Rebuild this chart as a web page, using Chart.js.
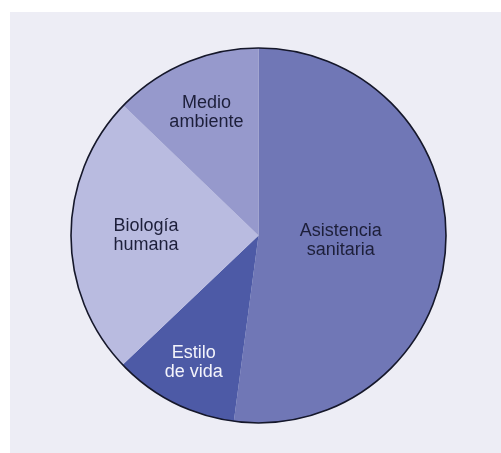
<!DOCTYPE html>
<html>
<head>
<meta charset="utf-8">
<script src="https://cdn.jsdelivr.net/npm/chart.js@4"></script>
<style>
  html, body { margin: 0; padding: 0; background: #fff; }
  body { width: 501px; height: 453px; position: relative; overflow: hidden; }
  .panel { position: absolute; left: 10px; top: 12px; right: 0; bottom: 0; background: #ededf5; }
  .wrap { position: absolute; left: 70px; top: 47px; width: 377px; height: 377px; }
</style>
</head>
<body>
<div class="panel"></div>
<div class="wrap"><canvas id="pie"></canvas></div>
<script>
const labels = [['Asistencia', 'sanitaria'], ['Estilo', 'de vida'], ['Biología', 'humana'], ['Medio', 'ambiente']];
const values = [52.1, 10.8, 24.3, 12.8];
const colors = ['#7077b6', '#4d5aa6', '#b9bbe0', '#9699cc'];
const textColors = ['#1d1f3a', '#f4f4fb', '#1d1f3a', '#1d1f3a'];
const labelRadius = [0.44, 0.76, 0.6, 0.71];

// labels inside slices + dark outline around the pie
const pieDecor = {
  id: 'pieDecor',
  afterDatasetsDraw(chart) {
    const ctx = chart.ctx;
    const arcs = chart.getDatasetMeta(0).data;
    if (!arcs.length) return;
    const a0 = arcs[0];
    ctx.save();
    ctx.beginPath();
    ctx.arc(a0.x, a0.y, a0.outerRadius, 0, Math.PI * 2);
    ctx.lineWidth = 1.6;
    ctx.strokeStyle = '#15172a';
    ctx.stroke();

    ctx.font = '18px "Liberation Sans", Arial, sans-serif';
    ctx.textAlign = 'center';
    ctx.textBaseline = 'middle';
    arcs.forEach((arc, i) => {
      const mid = (arc.startAngle + arc.endAngle) / 2;
      const r = arc.outerRadius * labelRadius[i];
      const x = arc.x + Math.cos(mid) * r;
      const y = arc.y + Math.sin(mid) * r;
      ctx.fillStyle = textColors[i];
      const lines = labels[i];
      lines.forEach((t, j) => {
        ctx.fillText(t, x, y + (j - (lines.length - 1) / 2) * 19);
      });
    });
    ctx.restore();
  }
};

new Chart(document.getElementById('pie'), {
  type: 'pie',
  data: {
    labels: labels.map(l => l.join(' ')),
    datasets: [{ data: values, backgroundColor: colors, borderWidth: 0 }]
  },
  options: {
    responsive: true,
    maintainAspectRatio: false,
    animation: false,
    layout: { padding: 1 },
    plugins: { legend: { display: false }, tooltip: { enabled: false } }
  },
  plugins: [pieDecor]
});
</script>
</body>
</html>
